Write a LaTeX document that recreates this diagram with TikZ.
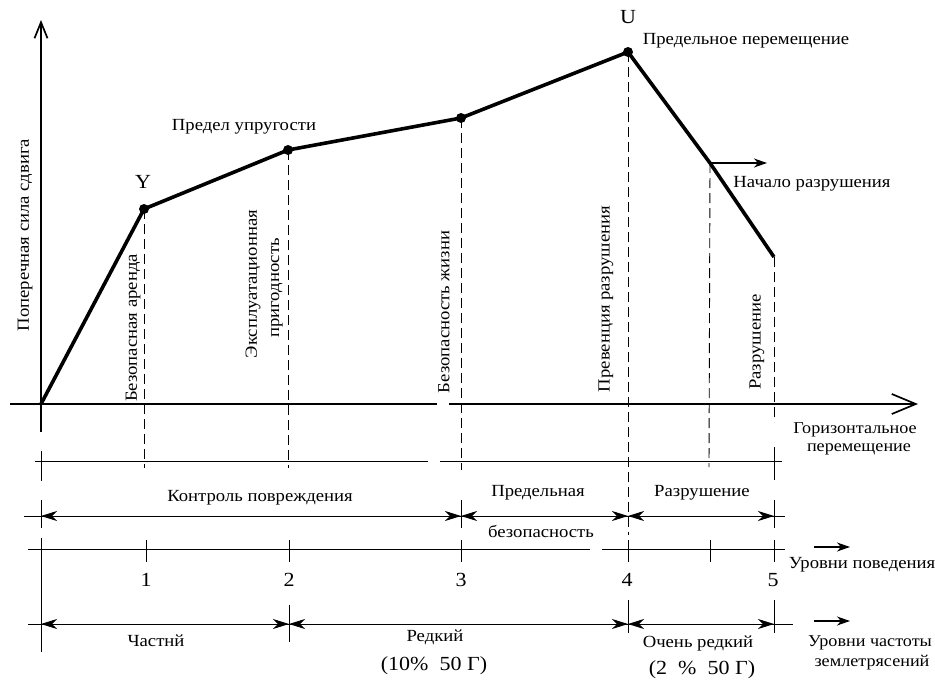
\documentclass[tikz,border=0pt]{standalone}
\usepackage{fontspec}
\setmainfont{Liberation Serif}[FakeStretch=1.1]
\usetikzlibrary{arrows.meta}
\begin{document}
\begin{tikzpicture}[x=1pt,y=-1pt,
  curve/.style={line width=3.6pt, line join=round},
  axis/.style={line width=1.7pt},
  thinl/.style={line width=0.9pt},
  dashline/.style={line width=0.9pt, dash pattern=on 10pt off 5pt},
  dimarr/.style={thinl, {Stealth[length=16pt,width=10pt,inset=5pt]}-{Stealth[length=16pt,width=10pt,inset=5pt]}},
  smallarr/.style={line width=1.2pt, -{Stealth[length=13pt,width=9pt,inset=4pt]}},
  lbl/.style={font=\fontsize{17}{19}\selectfont, inner sep=0pt},
  smlbl/.style={font=\fontsize{16.5}{17}\selectfont, inner sep=0pt},
  biglbl/.style={font=\fontsize{20}{22}\selectfont, inner sep=0pt},
  vlbl/.style={lbl, rotate=90},
  dot/.style={circle, fill, inner sep=0pt, minimum size=10pt}]
\useasboundingbox (0,0) rectangle (935,686);

% key points
\coordinate (O) at (41,404);
\node[dot] (Y) at (144,209) {};
\node[dot] (P2) at (288,150) {};
\node[dot] (P3) at (461,118) {};
\node[dot] (U) at (628,52) {};
\coordinate (B) at (710,163);
\coordinate (E) at (774,257);

% axes
\coordinate (yTop) at (41,20);
\coordinate (yBot) at (41,432);
\draw[axis,-{Straight Barb[length=16pt,width=13pt]}] (yBot) -- (yTop);
\coordinate (xL) at (10,404);
\coordinate (xGa) at (437,404);
\coordinate (xGb) at (449,404);
\coordinate (xR) at (918,404);
\draw[axis] (xL) -- (xGa);
\draw[axis,-{Straight Barb[length=24pt,width=20pt]}] (xGb) -- (xR);

% curve
\draw[curve] (O) -- (Y.center) -- (P2.center) -- (P3.center) -- (U.center) -- (B) -- (E);
\coordinate (Btip) at (767,163);
\draw[smallarr] (B) -- (Btip);

% dashed verticals
\coordinate (dY) at (144,468);
\coordinate (dP2) at (288,468);
\coordinate (dP3) at (461,470);
\coordinate (dU) at (628,535);
\coordinate (dB) at (709,467);
\coordinate (dE) at (774,422);
\draw[dashline] (Y.center) -- (dY);
\draw[dashline] (P2.center) -- (dP2);
\draw[dashline] (P3.center) -- (dP3);
\draw[dashline] (U.center) -- (dU);
\draw[dashline] (B) -- (dB);
\draw[dashline] (E) -- (dE);

% row 1
\coordinate (r1a) at (35,461); \coordinate (r1b) at (428,461);
\coordinate (r1c) at (440,461); \coordinate (r1d) at (782,461);
\draw[thinl] (r1a) -- (r1b);
\draw[thinl] (r1c) -- (r1d);
\coordinate (t1a) at (41,451); \coordinate (t1b) at (41,481);
\draw[thinl] (t1a) -- (t1b);
\coordinate (t1c) at (774,447); \coordinate (t1d) at (774,480);
\draw[thinl] (t1c) -- (t1d);

% row 2
\coordinate (r2a) at (24,516); \coordinate (r2b) at (785,516);
\draw[thinl] (r2a) -- (r2b);
\foreach \x in {41,461,774}{\draw[thinl] (\x,500) -- (\x,528);}
\coordinate (a0) at (41,516);
\coordinate (a3) at (461,516);
\coordinate (a4) at (628,516);
\coordinate (a5) at (774,516);
\draw[dimarr] (a0) -- (a3);
\draw[dimarr] (a3) -- (a4);
\draw[dimarr] (a4) -- (a5);

% row 3
\coordinate (r3a) at (28,549); \coordinate (r3b) at (590,549);
\coordinate (r3c) at (602,549); \coordinate (r3d) at (785,549);
\draw[thinl] (r3a) -- (r3b);
\draw[thinl] (r3c) -- (r3d);
\foreach \x in {146,289,461,628,710,774}{\draw[thinl] (\x,540) -- (\x,562);}
\coordinate (lv1) at (41,538); \coordinate (lv2) at (41,652);
\draw[thinl] (lv1) -- (lv2);

% row 4
\coordinate (r4a) at (28,624); \coordinate (r4b) at (793,624);
\draw[thinl] (r4a) -- (r4b);
\draw[thinl] (289,605) -- (289,642);
\draw[thinl] (628,600) -- (628,633);
\draw[thinl] (774,600) -- (774,633);
\coordinate (b0) at (41,624);
\coordinate (b2) at (289,624);
\coordinate (b4) at (628,624);
\coordinate (b5) at (774,624);
\draw[dimarr] (b0) -- (b2);
\draw[dimarr] (b2) -- (b4);
\draw[dimarr] (b4) -- (b5);

% side arrows
\coordinate (sa1) at (814,547); \coordinate (sa2) at (850,547);
\draw[smallarr] (sa1) -- (sa2);
\coordinate (sb1) at (814,621); \coordinate (sb2) at (850,621);
\draw[smallarr] (sb1) -- (sb2);

% labels top
\node[vlbl] (ly) at (25,235) {Поперечная сила сдвига};
\node[biglbl] (lY) at (143,182) {Y};
\node[lbl] (lel) at (244,127) {Предел упругости};
\node[biglbl] (lU) at (628,17) {U};
\node[lbl] (lpp) at (746,41) {Предельное перемещение};
\node[lbl] (lnr) at (812,184) {Начало разрушения};
\node[vlbl] (v1) at (133,328) {Безопасная аренда};
\node[vlbl] (v2a) at (253,284) {Эксплуатационная};
\node[vlbl] (v2b) at (277,288) {пригодность};
\node[vlbl] (v3) at (444,312) {Безопасность жизни};
\node[vlbl] (v4) at (606,299) {Превенция разрушения};
\node[vlbl] (v5) at (757,342) {Разрушение};

% labels bottom
\node[smlbl] (gh1) at (855,430) {Горизонтальное};
\node[smlbl] (gh2) at (859,449) {перемещение};
\node[lbl] (kp) at (260,498) {Контроль повреждения};
\node[lbl] (pb1) at (538,493) {Предельная};
\node[lbl] (pb2) at (541,531) {безопасность};
\node[lbl] (rz) at (702,493) {Разрушение};
\node[biglbl] (n1) at (146,580) {1};
\node[biglbl] (n2) at (289,580) {2};
\node[biglbl] (n3) at (461,580) {3};
\node[biglbl] (n4) at (627,580) {4};
\node[biglbl] (n5) at (773,580) {5};
\node[lbl] (up) at (862,565) {Уровни поведения};
\node[lbl] (ch) at (156,641) {Частнй};
\node[lbl] (rd) at (435,637) {Редкий};
\node[biglbl] (rdp) at (434,666) {(10\%\ \ 50 Г)};
\node[lbl] (ord) at (698,643) {Очень редкий};
\node[biglbl] (ordp) at (702,670) {(2\ \ \%\ \ 50 Г)};
\node[smlbl] (uc1) at (870,643) {Уровни частоты};
\node[smlbl] (uc2) at (872,663) {землетрясений};
\end{tikzpicture}
\end{document}
